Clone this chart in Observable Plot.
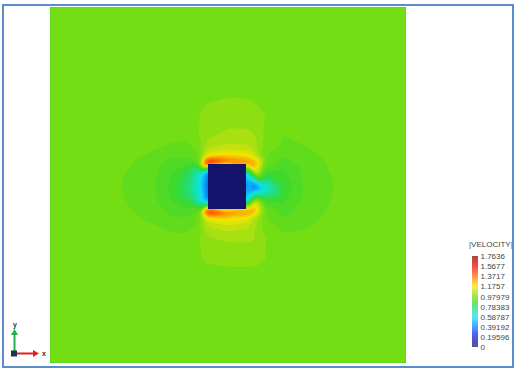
<!DOCTYPE html>
<html>
<head>
<meta charset="utf-8">
<script src="https://cdn.jsdelivr.net/npm/d3@7"></script>
<script src="https://cdn.jsdelivr.net/npm/@observablehq/plot@0.6"></script>
<style>
  html, body { margin: 0; padding: 0; background: #fff; }
  #chart { position: relative; width: 516px; height: 369px; overflow: hidden;
           font-family: "Liberation Sans", Arial, sans-serif; background: #fff; }
  #chart > svg, #chart > div { position: absolute; }
  #frame { left: 2px; top: 4px; width: 508px; height: 360px; border: 2px solid #5b8cce; }
  #legend-title { left: 469px; top: 240px; font-size: 8px; color: #444; letter-spacing: 0; }
</style>
</head>
<body>
<div id="chart"></div>
<script>
// Velocity magnitude around a square cylinder in a uniform stream.
// Sampled speeds on a non-uniform grid (x = columns, y = rows, centred on the body).
const colX = [-130, -100, -75, -55, -38, -28, -21, 0, 21, 28, 38, 55, 75, 100, 130];
const rowY = [95, 70, 50, 38, 30, 24, 14, 0, -14, -25, -31, -40, -52, -72, -95];

const r95  = [1.0, 1.0, 1.0, 1.0, 1.0, 1.0, 1.005, 1.012, 1.01, 1.005, 1.0, 1.0, 1.0, 1.0, 1.0];
const r70  = [1.0, 1.0, 1.0, 1.0, 1.0, 1.02, 1.035, 1.04, 1.04, 1.035, 1.02, 1.0, 1.0, 1.0, 1.0];
const r50  = [1.0, 1.0, 1.0, 0.995, 0.99, 1.02, 1.05, 1.07, 1.07, 1.06, 1.01, 0.978, 0.99, 1.0, 1.0];
const r38  = [1.0, 1.0, 0.985, 0.965, 0.97, 1.0, 1.09, 1.12, 1.11, 1.08, 1.0, 0.972, 0.975, 0.99, 1.0];
const r30  = [1.0, 0.99, 0.97, 0.945, 0.94, 0.99, 1.18, 1.24, 1.2, 1.1, 0.98, 0.94, 0.962, 0.985, 1.0];
const r24  = [1.0, 0.985, 0.962, 0.925, 0.92, 0.97, 1.66, 1.45, 1.38, 1.3, 0.98, 0.925, 0.955, 0.982, 1.0];
const r14  = [1.0, 0.978, 0.952, 0.9, 0.82, 0.68, 0.45, 0.0, 0.7, 1.2, 0.88, 0.89, 0.945, 0.978, 1.0];
const r0   = [0.995, 0.975, 0.948, 0.885, 0.78, 0.62, 0.4, 0.0, 0.5, 0.35, 0.64, 0.85, 0.94, 0.975, 0.995];
const rm14 = [1.0, 0.978, 0.952, 0.9, 0.82, 0.68, 0.45, 0.0, 0.65, 1.15, 0.88, 0.89, 0.945, 0.978, 1.0];
const rm25 = [1.0, 0.985, 0.962, 0.925, 0.92, 0.97, 1.62, 1.4, 1.35, 1.28, 0.98, 0.925, 0.955, 0.982, 1.0];
const rm31 = [1.0, 0.99, 0.97, 0.945, 0.94, 0.99, 1.17, 1.22, 1.18, 1.08, 0.98, 0.94, 0.962, 0.985, 1.0];
const rm40 = [1.0, 1.0, 0.985, 0.965, 0.97, 1.0, 1.09, 1.12, 1.1, 1.06, 1.0, 0.972, 0.975, 0.99, 1.0];
const rm52 = [1.0, 1.0, 1.0, 0.995, 0.99, 1.02, 1.05, 1.065, 1.065, 1.06, 1.02, 0.985, 0.995, 1.0, 1.0];
const rm72 = [1.0, 1.0, 1.0, 1.0, 1.0, 1.015, 1.025, 1.03, 1.03, 1.03, 1.02, 1.0, 1.0, 1.0, 1.0];
const rm95 = [1.0, 1.0, 1.0, 1.0, 1.0, 1.0, 1.0, 1.0, 1.0, 1.0, 1.0, 1.0, 1.0, 1.0, 1.0];
const speedRows = [r95, r70, r50, r38, r30, r24, r14, r0, rm14, rm25, rm31, rm40, rm52, rm72, rm95];

// Undisturbed stream speed on the outer boundary of the domain
const freeStream = 1.0;
const domainX = [-177, 178];
const domainY = [-176, 179];

// The solid body (zero velocity)
const body = [{x1: -19, x2: 19, y1: -23, y2: 22, v: 0}];

// Colour bar
const velocityMax = 1.7636;
const legendValues = [0, 0.19596, 0.39192, 0.58787, 0.78383, 0.97979, 1.1757, 1.3717, 1.5677, 1.7636];
const legendLabels = ["0", "0.19596", "0.39192", "0.58787", "0.78383", "0.97979", "1.1757", "1.3717", "1.5677", "1.7636"];

// Rainbow colour map
const colorStops = [0, 0.12, 0.25, 0.42, 0.58, 0.72, 0.85, 0.98, 1.08, 1.17, 1.30, 1.45, 1.58, 1.7636];
const colorRange = ["#14146e", "#1010b0", "#0a28f0", "#0a90f8", "#10e0f0", "#18e0a0", "#38d830",
                    "#73de13", "#b8e010", "#f0e800", "#ff9800", "#ff4000", "#ee0000", "#880000"];
const color = {type: "linear", domain: colorStops, range: colorRange, clamp: true};

// Assemble samples
const samples = [];
speedRows.forEach((row, j) => row.forEach((v, i) => samples.push({x: colX[i], y: rowY[j], v})));
for (const x of [domainX[0], ...colX, domainX[1]]) {
  samples.push({x, y: domainY[0], v: freeStream});
  samples.push({x, y: domainY[1], v: freeStream});
}
for (const y of rowY) {
  samples.push({x: domainX[0], y, v: freeStream});
  samples.push({x: domainX[1], y, v: freeStream});
}

const levels = d3.range(0, 45).map(i => i * velocityMax / 45);

const field = Plot.plot({
  width: 516, height: 369,
  marginLeft: 50, marginRight: 111, marginTop: 7, marginBottom: 7,
  x: {domain: domainX, axis: null},
  y: {domain: domainY, axis: null},
  color,
  marks: [
    Plot.contour(samples, {
      x: "x", y: "y", fill: "v",
      x1: domainX[0], x2: domainX[1], y1: domainY[0], y2: domainY[1],
      interpolate: "barycentric", thresholds: levels, blur: 2, pixelSize: 1
    }),
    Plot.rect(body, {x1: "x1", x2: "x2", y1: "y1", y2: "y2", fill: "v"})
  ]
});
field.style.left = "0px";
field.style.top = "0px";

const steps = d3.range(0, 200);
const legend = Plot.plot({
  width: 76, height: 125,
  marginLeft: 32, marginRight: 38, marginTop: 21, marginBottom: 13,
  x: {domain: [0, 1], axis: null},
  y: {domain: [0, velocityMax], axis: null},
  color,
  style: {background: "transparent"},
  marks: [
    Plot.rect(steps, {
      x1: () => 0, x2: () => 1,
      y1: i => i * velocityMax / steps.length,
      y2: i => (i + 1) * velocityMax / steps.length,
      fill: i => i * velocityMax / steps.length
    }),
    Plot.axisY(legendValues, {
      anchor: "right", tickSize: 0, tickPadding: 2,
      tickFormat: d => legendLabels[legendValues.indexOf(d)],
      fontSize: 8, fill: "#444", fontFamily: "Liberation Sans, Arial, sans-serif"
    })
  ]
});
legend.style.left = "440px";
legend.style.top = "235px";

const chart = document.getElementById("chart");
chart.append(field, legend);

const title = document.createElement("div");
title.id = "legend-title";
title.textContent = "|VELOCITY|";
chart.append(title);

// Coordinate triad
const ns = "http://www.w3.org/2000/svg";
const triad = document.createElementNS(ns, "svg");
triad.setAttribute("width", 60);
triad.setAttribute("height", 59);
triad.style.left = "0px";
triad.style.top = "310px";
triad.innerHTML = `
  <line x1="14.5" y1="43" x2="14.5" y2="24" stroke="#22b04a" stroke-width="2"/>
  <path d="M11 25 L14.5 19 L18 25 Z" fill="#22b04a"/>
  <line x1="15" y1="43.5" x2="34" y2="43.5" stroke="#e02020" stroke-width="2"/>
  <path d="M33 40 L39 43.5 L33 47 Z" fill="#e02020"/>
  <rect x="11" y="40.5" width="6" height="6" fill="#1c3552"/>
  <text x="13" y="17" font-size="7" font-weight="bold" fill="#333" font-family="Liberation Sans, Arial">y</text>
  <text x="42" y="46" font-size="7" font-weight="bold" fill="#333" font-family="Liberation Sans, Arial">x</text>`;
chart.append(triad);

const frame = document.createElement("div");
frame.id = "frame";
chart.append(frame);
</script>
</body>
</html>
